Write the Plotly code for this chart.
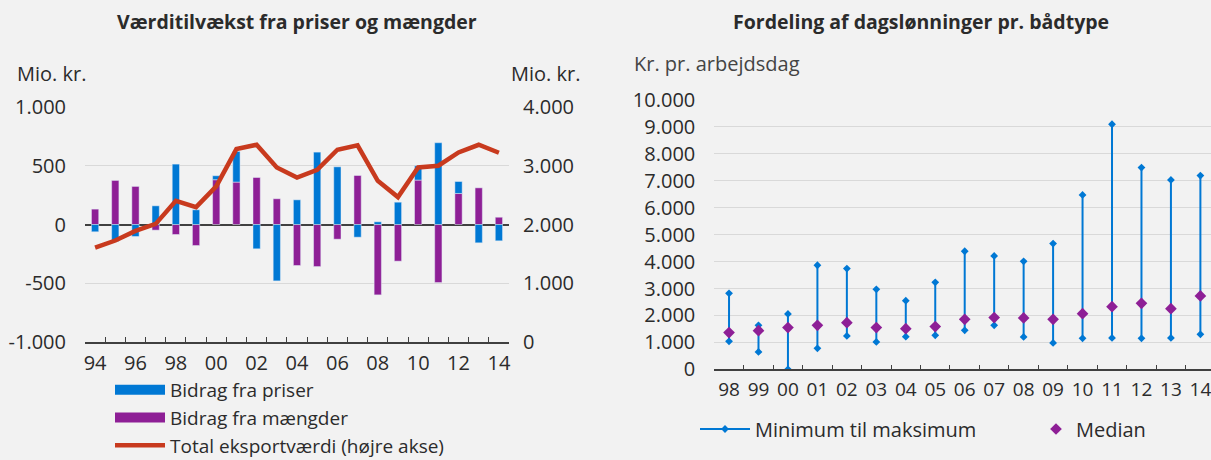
import plotly.graph_objects as go

# ---------------- Data: left chart ----------------
years = ["94", "95", "96", "97", "98", "99", "00", "01", "02", "03", "04",
         "05", "06", "07", "08", "09", "10", "11", "12", "13", "14"]
prices = [-62, -145, -102, 159, 514, 125, 34, 261, -207, -480, 210,
          616, 491, -108, 23, 190, 122, 696, 102, -156, -139]
quantities = [131, 375, 324, -48, -85, -179, 381, 361, 400, 219, -349,
              -358, -125, 417, -599, -312, 378, -494, 264, 312, 62]
total_export = [1608, 1727, 1892, 2010, 2403, 2295, 2648, 3284, 3357, 2971, 2800,
                2932, 3272, 3346, 2744, 2466, 2971, 3000, 3227, 3357, 3221]
left_ticks = [-1000, -500, 0, 500, 1000]
left_ticktext = ["-1.000", "-500", "0", "500", "1.000"]
right_ticks = [0, 1000, 2000, 3000, 4000]
right_ticktext = ["0", "1.000", "2.000", "3.000", "4.000"]

# ---------------- Data: right chart ----------------
boat_years = ["98", "99", "00", "01", "02", "03", "04", "05", "06", "07",
              "08", "09", "10", "11", "12", "13", "14"]
wage_min = [1040, 644, 0, 780, 1238, 1015, 1213, 1263, 1448, 1634,
            1201, 978, 1151, 1164, 1151, 1164, 1300]
wage_max = [2823, 1634, 2055, 3863, 3739, 2971, 2550, 3231, 4383, 4209,
            4011, 4667, 6475, 9099, 7490, 7032, 7193]
wage_median = [1362, 1436, 1548, 1634, 1733, 1548, 1510, 1585, 1857, 1919,
               1907, 1857, 2067, 2327, 2451, 2253, 2724]
wage_ticks = list(range(0, 10001, 1000))
wage_ticktext = ["0", "1.000", "2.000", "3.000", "4.000", "5.000",
                 "6.000", "7.000", "8.000", "9.000", "10.000"]

BLUE = "#0078D4"
PURPLE = "#8E1F96"
RED = "#C83A1E"
TXT = "#2B2B2B"
AXC = "#404040"
GRID = "#D9D9D9"
BG = "#F2F2F2"
FONT = "Open Sans"
FS = 20

fig = go.Figure()

# Stacked bars (quantities first -> closest to zero)
fig.add_trace(go.Bar(x=years, y=quantities, marker_color=PURPLE, name="Bidrag fra mængder",
                     showlegend=False, xaxis="x", yaxis="y", width=0.36))
fig.add_trace(go.Bar(x=years, y=prices, marker_color=BLUE, name="Bidrag fra priser",
                     showlegend=False, xaxis="x", yaxis="y", width=0.36))
fig.add_trace(go.Scatter(x=years, y=total_export, mode="lines", name="Total eksportværdi (højre akse)",
                         line=dict(color=RED, width=4.5), xaxis="x", yaxis="y2", showlegend=False))

# legend entries (left chart)
fig.add_trace(go.Scatter(x=[None], y=[None], mode="lines", name="Bidrag fra priser",
                         line=dict(color=BLUE, width=10), legend="legend", xaxis="x", yaxis="y"))
fig.add_trace(go.Scatter(x=[None], y=[None], mode="lines", name="Bidrag fra mængder",
                         line=dict(color=PURPLE, width=10), legend="legend", xaxis="x", yaxis="y"))
fig.add_trace(go.Scatter(x=[None], y=[None], mode="lines", name="Total eksportværdi (højre akse)",
                         line=dict(color=RED, width=4.5), legend="legend", xaxis="x", yaxis="y"))

# Right chart: min-max stems
sx, sy = [], []
for c, lo, hi in zip(boat_years, wage_min, wage_max):
    sx += [c, c, None]
    sy += [lo, hi, None]
fig.add_trace(go.Scatter(x=sx, y=sy, mode="lines+markers", name="Minimum til maksimum",
                         line=dict(color=BLUE, width=2),
                         marker=dict(symbol="diamond", size=6, color=BLUE),
                         xaxis="x3", yaxis="y3", legend="legend2", connectgaps=False))
fig.add_trace(go.Scatter(x=boat_years, y=wage_median, mode="markers", name="Median",
                         marker=dict(symbol="diamond", size=9, color=PURPLE),
                         xaxis="x3", yaxis="y3", legend="legend3"))

W, H = 1211, 460
def px_x(p):
    return p / W
def px_y(p):
    return 1 - p / H

fig.update_layout(
    width=W, height=H,
    margin=dict(l=0, r=0, t=0, b=0, autoexpand=False),
    paper_bgcolor=BG, plot_bgcolor=BG,
    font=dict(family=FONT, size=FS, color=TXT),
    barmode="relative",
    xaxis=dict(domain=[px_x(85), px_x(509)], anchor="y", type="category",
               range=[-0.5, 20.5], tickangle=0,
               tickvals=years, ticktext=[y if i % 2 == 0 else "" for i, y in enumerate(years)],
               ticks="inside", tickson="boundaries", ticklen=5, tickcolor=AXC, tickwidth=1.2,
               showline=True, linecolor=AXC, linewidth=1.5, showgrid=False,
               tickfont=dict(size=FS), ticklabelstandoff=2),
    yaxis=dict(domain=[px_y(342), px_y(107)], anchor="x", range=[-1000, 1000],
               tickvals=left_ticks, ticktext=left_ticktext, showgrid=True, gridcolor=GRID,
               gridwidth=1, zeroline=True, zerolinecolor=AXC, zerolinewidth=2,
               ticks="", tickfont=dict(size=FS), ticklabelstandoff=18),
    yaxis2=dict(overlaying="y", anchor="x", side="right", range=[0, 4000],
                tickvals=right_ticks, ticktext=right_ticktext, showgrid=False,
                zeroline=False, ticks="", tickfont=dict(size=FS), ticklabelstandoff=13),
    xaxis3=dict(domain=[px_x(714.3), 1.0], anchor="y3", type="category",
                range=[-0.5, 16.36], tickangle=0, ticks="inside", tickson="boundaries", ticklen=5,
                tickcolor=AXC, tickwidth=1.2, showline=True, linecolor=AXC, linewidth=1.5,
                showgrid=False, tickfont=dict(size=19), ticklabelstandoff=2),
    yaxis3=dict(domain=[px_y(369.3), px_y(100)], anchor="x3", range=[0, 10000],
                tickvals=wage_ticks, ticktext=wage_ticktext, showgrid=True, gridcolor=GRID,
                zeroline=False, ticks="", tickfont=dict(size=FS), ticklabelstandoff=18),
    legend=dict(x=px_x(110), y=px_y(371), xanchor="left", yanchor="top",
                bgcolor="rgba(0,0,0,0)", font=dict(size=19), tracegroupgap=0,
                itemwidth=50, borderwidth=0),
    legend2=dict(x=px_x(695), y=px_y(429), xanchor="left", yanchor="middle",
                 orientation="h", bgcolor="rgba(0,0,0,0)", font=dict(size=FS),
                 itemwidth=50, borderwidth=0),
    legend3=dict(x=px_x(1036), y=px_y(429), xanchor="left", yanchor="middle",
                 orientation="h", bgcolor="rgba(0,0,0,0)", font=dict(size=FS), borderwidth=0),
    annotations=[
        dict(text="<b>Værditilvækst fra priser og mængder</b>", x=px_x(297), y=px_y(22),
             xref="paper", yref="paper", showarrow=False, xanchor="center", yanchor="middle",
             font=dict(size=19.5, color=TXT)),
        dict(text="<b>Fordeling af dagslønninger pr. bådtype</b>", x=px_x(921), y=px_y(22),
             xref="paper", yref="paper", showarrow=False, xanchor="center", yanchor="middle",
             font=dict(size=19.5, color=TXT)),
        dict(text="Mio. kr.", x=px_x(15), y=px_y(74), xref="paper", yref="paper",
             showarrow=False, xanchor="left", yanchor="middle", font=dict(size=FS, color=TXT)),
        dict(text="Mio. kr.", x=px_x(509), y=px_y(74), xref="paper", yref="paper",
             showarrow=False, xanchor="left", yanchor="middle", font=dict(size=FS, color=TXT)),
        dict(text="Kr. pr. arbejdsdag", x=px_x(632), y=px_y(64), xref="paper", yref="paper",
             showarrow=False, xanchor="left", yanchor="middle", font=dict(size=FS, color="#444444")),
    ],
)

fig.write_html("out.html", config={"displayModeBar": False},
               post_script="document.body.style.margin='0';document.body.style.overflow='hidden';")
